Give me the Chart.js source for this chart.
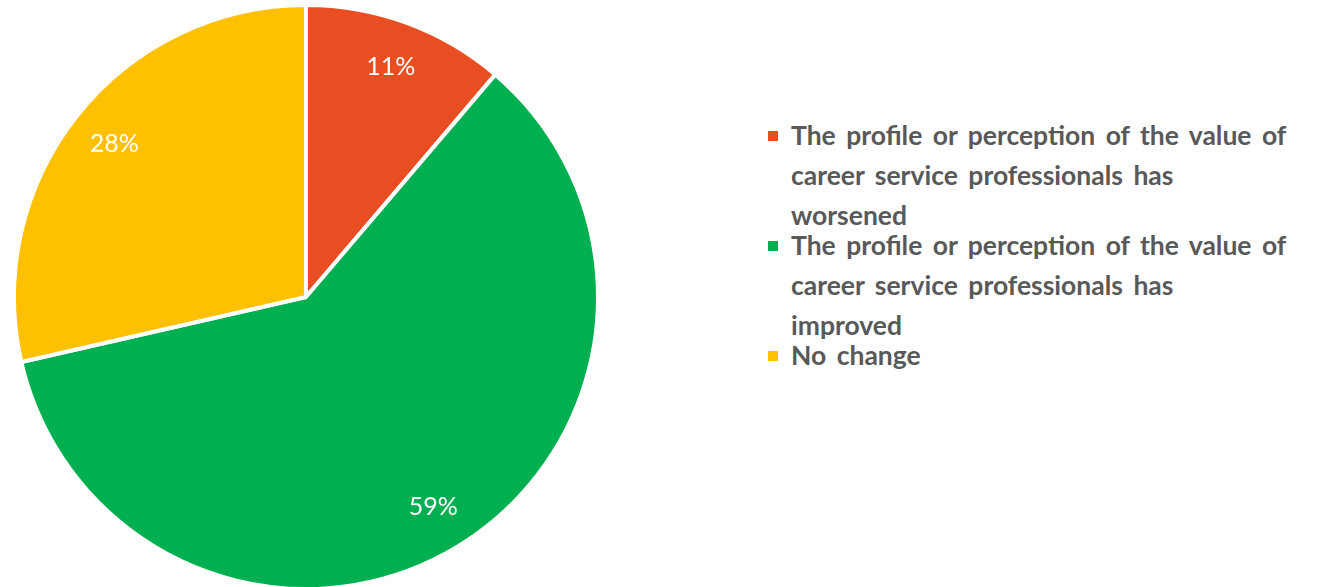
<!DOCTYPE html>
<html>
<head>
<meta charset="utf-8">
<script src="https://cdn.jsdelivr.net/npm/chart.js@4"></script>
<style>
  html, body { margin: 0; padding: 0; background: #fff; width: 1329px; height: 587px; overflow: hidden; }
  #pieBox { position: absolute; left: 0; top: 3px; width: 612px; height: 588px; }
  #leyenda { position: absolute; left: 768px; top: 115px; font-family: Lato, "Open Sans", sans-serif; font-weight: 700; font-size: 26.5px; word-spacing: 4px; color: #595959; }
  .item { position: relative; padding-left: 23px; line-height: 40px; white-space: nowrap; margin-bottom: -10px; }
  .marca { position: absolute; left: 0; top: 16px; width: 10px; height: 10px; }
</style>
</head>
<body>
<div id="pieBox"><canvas id="pieChart"></canvas></div>
<div id="leyenda"></div>
<script>
// Datos del gráfico (etiquetas en varias líneas, como en el original)
const categorias = [
    ['The profile or perception of the value of', 'career service professionals has', 'worsened'],
    ['The profile or perception of the value of', 'career service professionals has', 'improved'],
    ['No change']
];
const valores = [11, 59, 28];
const colores = ['#E94E22', '#00B050', '#FFC000'];

// Plugin para etiquetas de porcentaje dentro de cada sector
const etiquetasPlugin = {
    id: 'etiquetas',
    afterDatasetsDraw(chart) {
        const ctx = chart.ctx;
        const meta = chart.getDatasetMeta(0);
        ctx.save();
        ctx.font = '25px Lato, "Open Sans", sans-serif';
        ctx.fillStyle = '#ffffff';
        ctx.textAlign = 'center';
        ctx.textBaseline = 'middle';
        meta.data.forEach((arc, i) => {
            const p = arc.getProps(['x', 'y', 'startAngle', 'endAngle', 'outerRadius'], true);
            const ang = (p.startAngle + p.endAngle) / 2;
            const r = p.outerRadius * 0.84;
            ctx.fillText(valores[i] + '%', p.x + Math.cos(ang) * r, p.y + Math.sin(ang) * r);
        });
        ctx.restore();
    }
};

const ctx = document.getElementById('pieChart').getContext('2d');
const pieChart = new Chart(ctx, {
    type: 'pie',
    data: {
        labels: categorias,
        datasets: [{
            data: valores,
            backgroundColor: colores,
            borderColor: '#ffffff',
            borderWidth: 4
        }]
    },
    options: {
        responsive: true,
        maintainAspectRatio: false,
        animation: false,
        layout: { padding: 0 },
        plugins: {
            legend: { display: false },
            tooltip: { enabled: false }
        }
    },
    plugins: [etiquetasPlugin]
});

// Leyenda en HTML
const leyenda = document.getElementById('leyenda');
let html = '';
categorias.forEach((lineas, i) => {
    html += `<div class="item"><span class="marca" style="background:${colores[i]}"></span>${lineas.join('<br>')}</div>`;
});
leyenda.innerHTML = html;
</script>
</body>
</html>
